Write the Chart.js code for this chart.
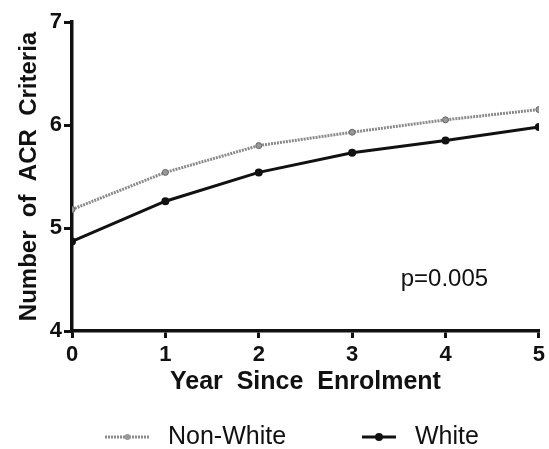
<!DOCTYPE html>
<html><head><meta charset="utf-8">
<script src="https://cdn.jsdelivr.net/npm/chart.js@4.4.0/dist/chart.umd.min.js"></script>
<style>html,body{margin:0;padding:0;background:#fff}#wrap{width:549px;height:449px}</style>
</head><body><div id="wrap"><canvas id="c" width="549" height="449"></canvas></div>
<script>
const years = [0, 1, 2, 3, 4, 5];
const nonWhite = [5.18, 5.54, 5.80, 5.93, 6.05, 6.15];
const white = [4.87, 5.26, 5.54, 5.73, 5.85, 5.98];
const yTicks = [4, 5, 6, 7];
const seriesNames = ['Non-White', 'White'];
const annotation = 'p=0.005';
const xTitle = 'Year  Since  Enrolment';
const yTitle = 'Number  of  ACR  Criteria';

const FONT = '"Liberation Sans", Arial, sans-serif';

const extras = {
  id: 'extras',
  afterDraw(chart) {
    const ctx = chart.ctx;
    const xs = chart.scales.x, ys = chart.scales.y;
    ctx.save();
    ctx.fillStyle = '#111';
    ctx.font = '24px ' + FONT;
    ctx.textBaseline = 'middle';
    ctx.textAlign = 'left';
    ctx.fillText(annotation, xs.getPixelForValue(3.52), ys.getPixelForValue(4.5));
    const ly = 437;
    const items = [
      {x0: 105, x1: 150, tx: 168, ds: chart.data.datasets[0]},
      {x0: 362, x1: 396, tx: 415, ds: chart.data.datasets[1]}
    ];
    items.forEach(it => {
      const ds = it.ds;
      ctx.strokeStyle = ds.borderColor;
      ctx.lineWidth = ds.borderWidth;
      ctx.setLineDash(ds.borderDash || []);
      ctx.beginPath(); ctx.moveTo(it.x0, ly); ctx.lineTo(it.x1, ly); ctx.stroke();
      ctx.setLineDash([]);
      ctx.fillStyle = ds.pointBackgroundColor;
      ctx.beginPath(); ctx.arc((it.x0 + it.x1) / 2, ly, ds.pointRadius, 0, Math.PI * 2); ctx.fill();
      ctx.fillStyle = '#111';
      ctx.font = '25px ' + FONT;
      ctx.textBaseline = 'middle';
      ctx.fillText(ds.label, it.tx, ly);
    });
    ctx.restore();
  }
};

new Chart(document.getElementById('c'), {
  type: 'line',
  data: {
    datasets: [
      {
        label: seriesNames[0],
        data: years.map((x, i) => ({x, y: nonWhite[i]})),
        borderColor: '#8a8a8a', borderWidth: 3, borderDash: [2, 1],
        pointRadius: 3, pointBackgroundColor: '#999', pointBorderColor: '#666', pointBorderWidth: 1,
        tension: 0, fill: false
      },
      {
        label: seriesNames[1],
        data: years.map((x, i) => ({x, y: white[i]})),
        borderColor: '#111', borderWidth: 3,
        pointRadius: 4, pointBackgroundColor: '#111', pointBorderColor: '#111', pointBorderWidth: 0,
        tension: 0, fill: false
      }
    ]
  },
  options: {
    responsive: false, animation: false, devicePixelRatio: 1,
    layout: {padding: {left: 15, right: 9, top: 22, bottom: 52}},
    plugins: {legend: {display: false}, tooltip: {enabled: false}},
    scales: {
      x: {
        type: 'linear', min: 0, max: 5,
        afterBuildTicks(s) { s.ticks = years.map(v => ({value: v})); },
        afterFit(s) { s.height = 66; },
        border: {color: '#111', width: 3.5},
        grid: {drawOnChartArea: false, drawTicks: true, tickLength: 7, color: '#111', lineWidth: 3},
        ticks: {color: '#111', font: {family: FONT, size: 22, weight: 'bold'}, padding: 4},
        title: {display: true, text: xTitle, color: '#111', font: {family: FONT, size: 25, weight: 'bold'}, padding: {top: 4, bottom: 0}}
      },
      y: {
        type: 'linear', min: 4, max: 7,
        afterBuildTicks(s) { s.ticks = yTicks.map(v => ({value: v})); },
        afterFit(s) { s.width = 57; },
        border: {color: '#111', width: 3.5},
        grid: {drawOnChartArea: false, drawTicks: true, tickLength: 8, color: '#111', lineWidth: 3},
        ticks: {color: '#111', font: {family: FONT, size: 22, weight: 'bold'}, padding: 2},
        title: {display: true, text: yTitle, color: '#111', font: {family: FONT, size: 24, weight: 'bold'}, padding: {top: 0, bottom: 4}}
      }
    }
  },
  plugins: [extras]
});
</script></body></html>
